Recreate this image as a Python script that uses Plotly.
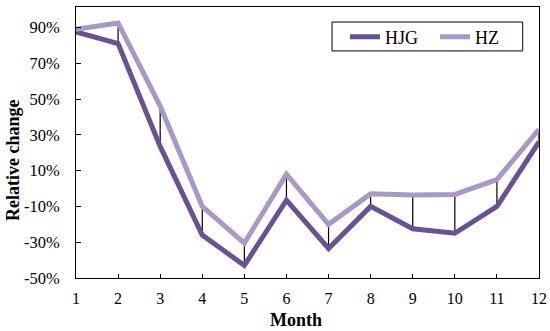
import plotly.graph_objects as go

months = [1, 2, 3, 4, 5, 6, 7, 8, 9, 10, 11, 12]
hjg = [87.5, 81.0, 23.5, -26.0, -43.0, -6.5, -33.5, -10.0, -22.5, -25.0, -10.0, 26.0]
hz = [89.0, 92.5, 46.0, -10.0, -30.5, 8.0, -20.0, -3.0, -3.7, -3.3, 5.0, 33.0]
y_ticks = [-50, -30, -10, 10, 30, 50, 70, 90]

HJG_COLOR = "#685292"
HZ_COLOR = "#A898C4"
FONT = "Liberation Serif, Times New Roman, serif"

# high-low connector lines between the two series
hl_x, hl_y = [], []
for m, a, b in zip(months, hjg, hz):
    hl_x += [m, m, None]
    hl_y += [a, b, None]

fig = go.Figure()
fig.add_trace(go.Scatter(x=hl_x, y=hl_y, mode="lines",
                         line=dict(color="black", width=1.2),
                         showlegend=False, hoverinfo="skip"))
fig.add_trace(go.Scatter(x=months, y=hjg, mode="lines", name="HJG",
                         line=dict(color=HJG_COLOR, width=5)))
fig.add_trace(go.Scatter(x=months, y=hz, mode="lines", name="HZ",
                         line=dict(color=HZ_COLOR, width=5)))

# plot area in pixels: x 75.7..539, y 7.3..277.7
fig.update_layout(
    width=550, height=331,
    margin=dict(l=76, r=11, t=7, b=53, autoexpand=False),
    paper_bgcolor="white", plot_bgcolor="white",
    font=dict(family=FONT, size=16, color="black"),
    showlegend=True,
    legend=dict(orientation="h", x=0.581, y=0.9575, xanchor="left", yanchor="top",
                borderwidth=0, bgcolor="rgba(0,0,0,0)",
                font=dict(family=FONT, size=18, color="black"),
                entrywidth=45, entrywidthmode="pixels"),
    shapes=[dict(type="rect", xref="paper", yref="paper",
                 x0=0.553, x1=0.9648, y0=0.8379, y1=0.9445,
                 line=dict(color="black", width=1), fillcolor="rgba(0,0,0,0)",
                 layer="below")],
    xaxis=dict(range=[1, 12], tickmode="array", tickvals=months,
               ticks="inside", ticklen=4, tickcolor="black", tickwidth=1,
               showline=True, linecolor="black", linewidth=1, mirror=True,
               showgrid=False, zeroline=False, ticklabelstandoff=6,
               tickfont=dict(family=FONT, size=16)),
    yaxis=dict(range=[-50, 101.4], tickmode="array", tickvals=y_ticks,
               ticktext=[f"{v}%" for v in y_ticks],
               ticks="inside", ticklen=5, tickcolor="black", tickwidth=1,
               showline=True, linecolor="black", linewidth=1, mirror=True,
               showgrid=False, zeroline=False, ticklabelstandoff=12,
               tickfont=dict(family=FONT, size=16.5)),
    annotations=[
        dict(text="<b>Relative change</b>", xref="paper", yref="paper",
             x=-0.136, y=0.4316, xanchor="center", yanchor="middle",
             textangle=-90, showarrow=False, font=dict(family=FONT, size=18)),
        dict(text="<b>Month</b>", xref="paper", yref="paper",
             x=0.4755, y=-0.1564, xanchor="center", yanchor="middle",
             showarrow=False, font=dict(family=FONT, size=18)),
    ],
)

fig.write_html("out.html", config={"displayModeBar": False},
               post_script="document.body.style.margin='0';document.body.style.overflow='hidden';")
